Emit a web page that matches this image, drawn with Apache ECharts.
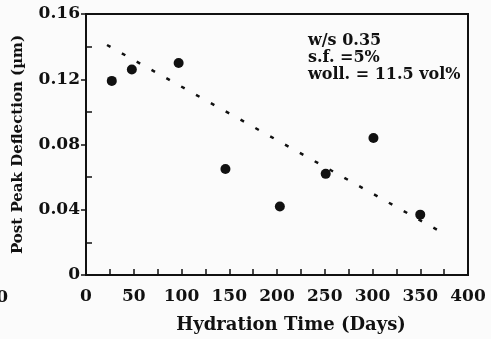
<!DOCTYPE html>
<html>
<head>
<meta charset="utf-8">
<script src="https://cdn.jsdelivr.net/npm/echarts@6/dist/echarts.min.js"></script>
<style>
  html, body { margin: 0; padding: 0; background: #fbfbfb; }
  #chart { width: 491px; height: 339px; }
</style>
</head>
<body>
<div id="chart"></div>
<script>
// Measured post-peak deflection against hydration time
const hydrationDays = [27, 48, 97, 146, 203, 251, 301, 350];
const deflection = [0.119, 0.126, 0.130, 0.065, 0.042, 0.062, 0.084, 0.037];

// End points of the dotted trend line
const trendDays = [22, 373];
const trendDeflection = [0.141, 0.026];

// Axis ranges and tick steps
const xRange = [0, 400];
const xStep = 50;
const yRange = [0, 0.16];
const yStep = 0.04;

const notes = ['w/s 0.35', 's.f. =5%', 'woll. = 11.5 vol%'];

const ink = '#111111';
const serif = '"DejaVu Serif", serif';

const gridLeft = 86;
const gridRight = 23;
const chartWidth = 491;

const chart = echarts.init(document.getElementById('chart'), null, { renderer: 'canvas' });

chart.setOption({
  backgroundColor: '#fbfbfb',
  animation: false,
  grid: {
    left: gridLeft, right: gridRight, top: 14, bottom: 62,
    show: true, borderColor: ink, borderWidth: 2, backgroundColor: 'transparent'
  },
  xAxis: {
    type: 'value',
    min: xRange[0], max: xRange[1], interval: xStep,
    name: 'Hydration Time (Days)',
    nameLocation: 'middle', nameGap: 41,
    nameTextStyle: {
      fontFamily: serif, fontWeight: 'bold', fontSize: 18, color: ink,
      padding: [0, 0, 0, 28]
    },
    axisLine: { show: true, lineStyle: { color: ink, width: 2 } },
    axisTick: { show: true, inside: true, length: 6, lineStyle: { color: ink, width: 1.5 } },
    minorTick: { show: true, splitNumber: 2, length: 6, lineStyle: { color: ink, width: 1.5 } },
    axisLabel: { fontFamily: serif, fontWeight: 'bold', fontSize: 17, color: ink, margin: 13 },
    splitLine: { show: false }
  },
  yAxis: [
    {
      type: 'value',
      min: yRange[0], max: yRange[1], interval: yStep,
      name: 'Post Peak Deflection (\u00b5m)',
      nameLocation: 'middle', nameGap: 60, nameRotate: 90,
      nameTextStyle: { fontFamily: serif, fontWeight: 'bold', fontSize: 15, color: ink },
      axisLine: { show: true, lineStyle: { color: ink, width: 2 } },
      axisTick: { show: true, inside: false, length: 5, lineStyle: { color: ink, width: 1.5 } },
      axisLabel: {
        fontFamily: serif, fontWeight: 'bold', fontSize: 17, color: ink, margin: 6,
        formatter: v => (v === 0 ? '0' : v.toFixed(2))
      },
      splitLine: { show: false }
    },
    {
      // right-side scale moved onto the left edge: its outward minor ticks point into the plot
      type: 'value', position: 'right',
      offset: -(chartWidth - gridLeft - gridRight),
      min: yRange[0], max: yRange[1], interval: yStep,
      axisLine: { show: false },
      axisTick: { show: false },
      minorTick: { show: true, splitNumber: 2, length: 6, lineStyle: { color: ink, width: 1.5 } },
      axisLabel: { show: false },
      splitLine: { show: false }
    }
  ],
  series: [
    {
      type: 'line',
      data: trendDays.map((d, i) => [d, trendDeflection[i]]),
      symbol: 'none',
      lineStyle: { color: ink, width: 2.5, type: [4, 13] },
      silent: true,
      z: 2
    },
    {
      type: 'scatter',
      data: hydrationDays.map((d, i) => [d, deflection[i]]),
      symbol: 'circle',
      symbolSize: 10,
      itemStyle: { color: ink, opacity: 1 },
      z: 3
    }
  ],
  graphic: [
    {
      type: 'text', left: 308, top: 32,
      style: {
        text: notes.join('\n'),
        font: 'bold 16px ' + serif,
        lineHeight: 17,
        fill: ink
      }
    },
    {
      // edge of a neighbouring panel's label
      type: 'text', x: 8, y: 298,
      style: {
        text: '400', font: 'bold 17px ' + serif,
        fill: ink, align: 'right', verticalAlign: 'middle'
      }
    }
  ]
});
</script>
</body>
</html>
